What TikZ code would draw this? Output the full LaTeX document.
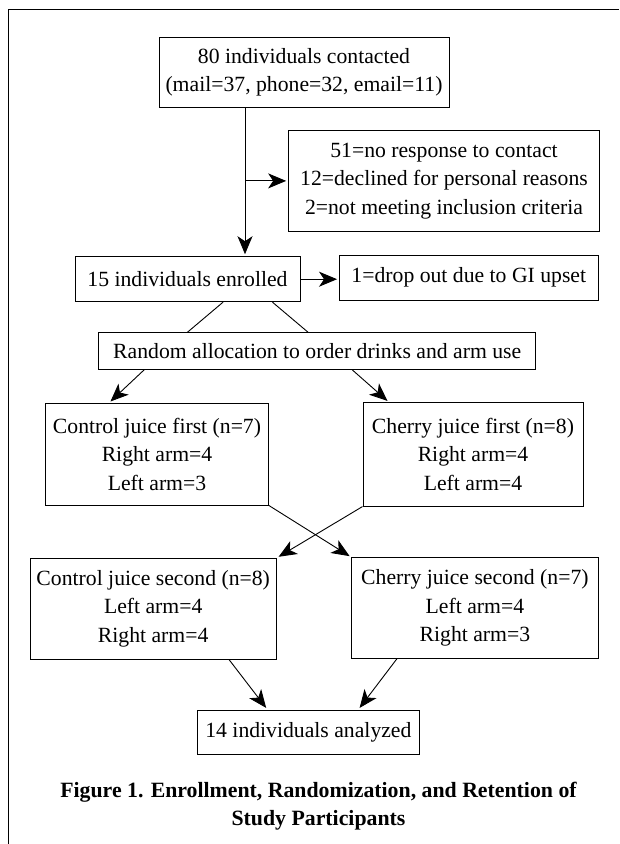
\documentclass[tikz,border=0pt]{standalone}
\usepackage{fontspec}
\setmainfont{Liberation Serif}
\usetikzlibrary{arrows.meta}

\tikzset{
  box/.style={draw, line width=1pt, inner sep=0pt, align=center, font=\fontsize{21.7}{28.4}\selectfont},
  arr/.style={-{Stealth[length=18pt, width=15pt, inset=5pt]}, line width=0.9pt, shorten >=2pt},
  link/.style={line width=0.9pt}
}

\begin{document}
\begin{tikzpicture}[x=1pt, y=-1pt]

\useasboundingbox (0,0) rectangle (619,844);
\draw[line width=0.8pt] (8,844) -- (8,9) -- (619,9);

\node[box, minimum width=290pt, minimum height=69.6pt] (contacted) at (304,72.5)
  {80 individuals contacted\\(mail=37, phone=32, email=11)};
\node[box, minimum width=310.7pt, minimum height=100.3pt] (excluded) at (444,180.9)
  {51=no response to contact\\12=declined for personal reasons\\2=not meeting inclusion criteria};
\node[box, minimum width=225pt, minimum height=45pt] (enrolled) at (187.5,279.2)
  {15 individuals enrolled};
\node[box, minimum width=258.5pt, minimum height=44.7pt] (dropout) at (468.8,277.7)
  {1=drop out due to GI upset};
\node[box, minimum width=437pt, minimum height=36.6pt] (random) at (317.2,351)
  {Random allocation to order drinks and arm use};

\node[box, minimum width=223pt, minimum height=101.7pt] (ctrlfirst) at (157,454.2)
  {Control juice first (n=7)\\Right arm=4\\Left arm=3};
\node[box, minimum width=220pt, minimum height=103.3pt] (cherryfirst) at (473,454.4)
  {Cherry juice first (n=8)\\Right arm=4\\Left arm=4};
\node[box, minimum width=246.4pt, minimum height=101pt] (ctrlsecond) at (153.2,608.8)
  {Control juice second (n=8)\\Left arm=4\\Right arm=4};
\node[box, minimum width=246.2pt, minimum height=100.6pt] (cherrysecond) at (474.9,608)
  {Cherry juice second (n=7)\\Left arm=4\\Right arm=3};
\node[box, minimum width=222pt, minimum height=44pt] (analyzed) at (308.4,732)
  {14 individuals analyzed};

\node[align=center, font=\bfseries\fontsize{21.8}{28.5}\selectfont] (caption) at (318.5,806)
  {Figure 1. Enrollment, Randomization, and Retention of\\Study Participants};

\coordinate (branch) at ([xshift=-59pt]contacted.south |- excluded.west);
\draw[arr] ([xshift=-59pt]contacted.south) -- ([xshift=-59pt]contacted.south |- enrolled.north);
\draw[arr] (branch) -- (excluded.west);
\draw[arr] (enrolled.east) -- (enrolled.east -| dropout.west);

\draw[link] ([xshift=35.5pt]enrolled.south) -- ([xshift=-129.7pt]random.north);
\draw[link] ([xshift=85pt]enrolled.south)   -- ([xshift=-9.2pt]random.north);

\draw[arr] ([xshift=-173pt]random.south) -- ([xshift=-48pt]ctrlfirst.north);
\draw[arr] ([xshift=35pt]random.south)   -- ([xshift=-84pt]cherryfirst.north);

\draw[arr] (ctrlfirst.south east)   -- (cherrysecond.north west);
\draw[arr] (cherryfirst.south west) -- (ctrlsecond.north east);

\draw[arr] ([xshift=76pt]ctrlsecond.south)    -- ([xshift=-41pt]analyzed.north);
\draw[arr] ([xshift=-78pt]cherrysecond.south) -- ([xshift=50pt]analyzed.north);

\end{tikzpicture}
\end{document}
